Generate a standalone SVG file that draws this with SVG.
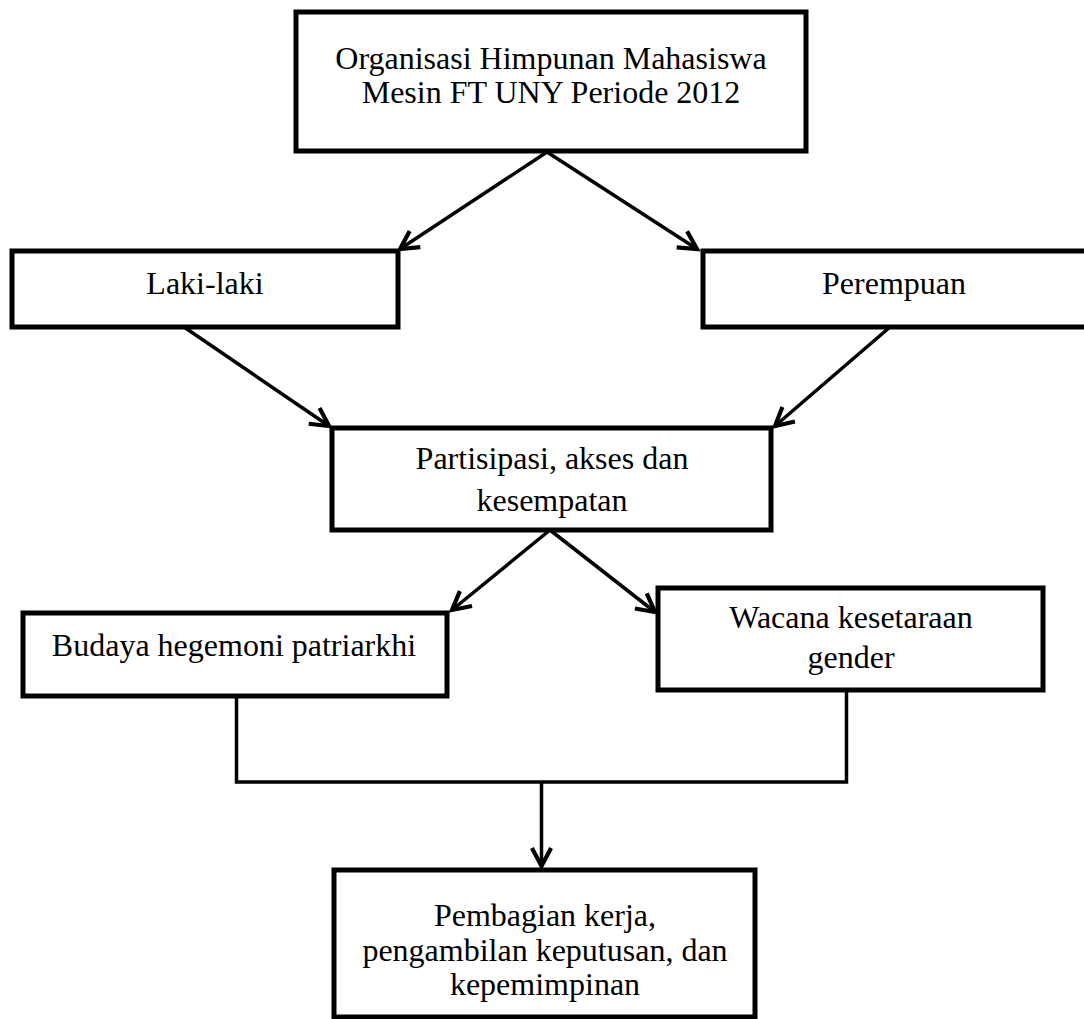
<svg xmlns="http://www.w3.org/2000/svg" width="1084" height="1019" viewBox="0 0 1084 1019">
<style>
.box{fill:#fff;stroke:#000;stroke-width:5}
.t{font-family:"Liberation Serif","Times New Roman",serif;font-size:32px;fill:#000;text-anchor:middle}
.c{stroke:#000;stroke-width:3.5;fill:none}
</style>
<defs>
<marker id="ah" markerUnits="userSpaceOnUse" markerWidth="24" markerHeight="24" viewBox="-16 -10 20 20" refX="0" refY="0" orient="auto">
<path d="M-15,-8 L0,0 L-15,8" fill="none" stroke="#000" stroke-width="3.5" stroke-linejoin="miter"/>
</marker>
</defs>
<rect width="1084" height="1019" fill="#fff"/>
<g id="connectors">
<line class="c" x1="547" y1="152" x2="400" y2="249" marker-end="url(#ah)"/>
<line class="c" x1="547" y1="152" x2="697" y2="249" marker-end="url(#ah)"/>
<line class="c" x1="184" y1="327" x2="329" y2="426" marker-end="url(#ah)"/>
<line class="c" x1="890" y1="327" x2="775" y2="426" marker-end="url(#ah)"/>
<line class="c" x1="550" y1="530" x2="452" y2="610" marker-end="url(#ah)"/>
<line class="c" x1="550" y1="530" x2="655" y2="612" marker-end="url(#ah)"/>
<polyline class="c" points="236.5,696 236.5,782 846.5,782 846.5,690"/>
<line class="c" x1="541.5" y1="782" x2="541.5" y2="866" marker-end="url(#ah)"/>
</g>
<g id="n-org">
<rect class="box" x="296" y="12" width="510" height="139"/>
<text class="t" x="551" y="69">Organisasi Himpunan Mahasiswa</text>
<text class="t" x="551" y="103">Mesin FT UNY Periode 2012</text>
</g>
<g id="n-laki">
<rect class="box" x="12" y="251" width="386" height="76"/>
<text class="t" x="205" y="294">Laki-laki</text>
</g>
<g id="n-perempuan">
<rect class="box" x="703" y="251" width="390" height="76"/>
<text class="t" x="894" y="294">Perempuan</text>
</g>
<g id="n-partisipasi">
<rect class="box" x="332" y="428" width="439" height="102"/>
<text class="t" x="552" y="469">Partisipasi, akses dan</text>
<text class="t" x="552" y="511">kesempatan</text>
</g>
<g id="n-budaya">
<rect class="box" x="23" y="613" width="424" height="83"/>
<text class="t" x="234" y="656">Budaya hegemoni patriarkhi</text>
</g>
<g id="n-wacana">
<rect class="box" x="658" y="588" width="385" height="102"/>
<text class="t" x="851" y="628">Wacana kesetaraan</text>
<text class="t" x="851" y="668">gender</text>
</g>
<g id="n-pembagian">
<rect class="box" x="334" y="870" width="421" height="147"/>
<text class="t" x="545" y="926">Pembagian kerja,</text>
<text class="t" x="545" y="961">pengambilan keputusan, dan</text>
<text class="t" x="545" y="995">kepemimpinan</text>
</g>
</svg>
